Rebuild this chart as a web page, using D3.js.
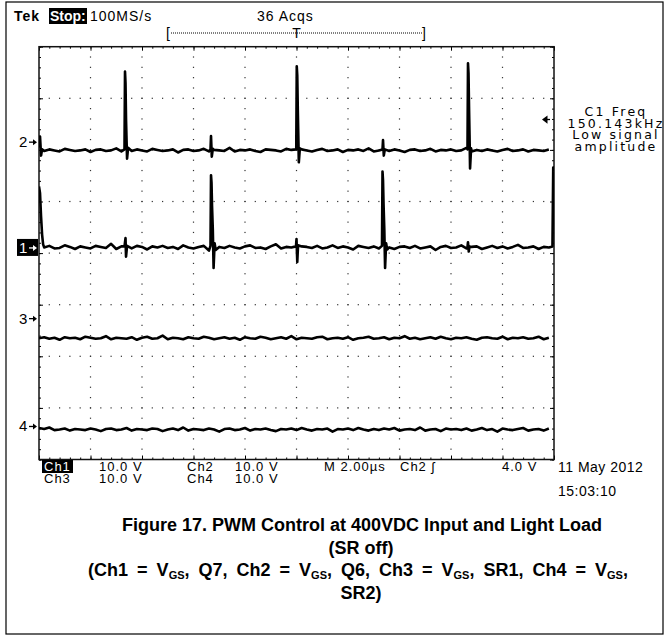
<!DOCTYPE html>
<html>
<head>
<meta charset="utf-8">
<script src="https://cdn.jsdelivr.net/npm/d3@7/dist/d3.min.js"></script>
<style>
  body { margin: 0; background: #fff; }
  svg { display: block; }
  .scope { font-family: "Liberation Sans", Arial, sans-serif; font-size: 14px; fill: #000; letter-spacing: 1px; }
  .side { font-family: "DejaVu Sans", sans-serif; font-size: 12.5px; fill: #000; letter-spacing: 2.2px; }
  .caption { font-family: "Liberation Sans", Arial, sans-serif; font-weight: bold; font-size: 18px; fill: #000; }
  .trace { fill: none; stroke: #000; stroke-width: 2.6; stroke-linejoin: round; }
</style>
</head>
<body>
<div id="chart"></div>
<script>

// scope settings
var timeDivs = [0, 2, 4, 6, 8, 10, 12, 14, 16, 18, 20];      // µs, M 2.00µs/div
var voltDivs = [-4, -3, -2, -1, 0, 1, 2, 3, 4];               // graticule divisions
var channels = ["Ch1", "Ch2", "Ch3", "Ch4"];
var voltsPerDiv = [10, 10, 10, 10];
var chOffsetDiv = [0.1, 2.15, -1.27, -3.36];                  // channel ground markers
var chBaseline = [0.1, -1.6, -3.8, -0.6];                     // V, trace rest level
var sampleStep = 0.2;                                         // µs between noise samples

// baseline noise, V (one value per 0.2 µs)
var ch1Noise = [0.2,0.0,0.3,-0.2,-0.1,0.4,0.1,-0.3,0.2,0.0,
  -0.2,0.3,0.1,-0.1,0.7,-0.3,0.2,0.0,-0.2,0.3,
  0.1,-0.4,0.2,0.0,0.3,-0.1,0.1,-0.3,0.4,0.0,
  -0.2,0.1,0.3,-0.6,0.2,0.1,-0.1,0.3,0.0,-0.2,
  0.2,0.4,-0.1,0.0,-0.3,0.2,0.6,-0.2,0.1,0.0,
  -0.3,0.2,0.1,-0.1,0.3,-0.2,0.0,0.4,-0.1,0.2,
  0.0,-0.4,0.3,0.1,-0.1,0.2,-0.2,0.7,0.0,-0.3,
  0.1,0.2,-0.1,0.3,-0.2,0.0,0.2,-0.5,0.1,0.3,
  -0.1,0.0,0.4,-0.2,0.1,0.2,-0.3,0.0,0.3,-0.1,
  0.2,-0.2,0.1,0.5,-0.1,0.0,0.2,-0.3,0.1,0.0];
var ch2Noise = [0.1,-0.1,0.2,0.0,-0.2,0.3,0.1,-0.1,0.0,0.2,
  -0.3,0.1,0.2,-0.1,0.0,0.4,-0.2,0.1,-0.1,0.2,
  0.0,-0.2,0.3,0.1,-0.1,0.0,0.2,-0.4,0.1,0.2,
  -0.1,0.0,0.3,-0.2,0.1,0.0,-0.1,0.5,-0.2,0.1,
  0.0,0.2,-0.1,-0.3,0.2,0.1,0.0,-0.2,0.3,0.1,
  -0.1,0.2,0.0,-0.2,0.1,0.3,-0.1,0.0,0.2,-0.3,
  0.1,0.0,0.2,-0.1,0.4,-0.2,0.0,0.1,-0.1,0.2,
  0.0,-0.3,0.1,0.2,-0.1,0.0,0.3,-0.2,0.1,0.0,
  0.2,-0.1,0.0,0.5,-0.2,0.1,-0.1,0.2,0.0,-0.2,
  0.1,0.3,-0.1,0.0,0.2,-0.2,0.1,0.0,-0.1,0.2];
var ch3Noise = [0.0,0.2,-0.1,0.1,-0.3,0.2,0.0,0.1,-0.2,0.3,
  0.1,-0.1,0.0,0.4,-0.2,0.1,0.0,-0.1,0.2,-0.3,
  0.1,0.3,-0.1,0.0,0.5,-0.2,0.1,0.0,-0.2,0.2,
  0.0,-0.1,0.3,0.1,-0.2,0.0,0.2,-0.1,0.1,-0.3,
  0.2,0.0,-0.1,0.3,0.1,-0.2,0.0,0.2,-0.1,0.4,
  -0.2,0.1,0.0,-0.1,0.2,0.3,-0.2,0.0,0.1,-0.1,
  0.2,-0.3,0.0,0.1,0.3,-0.1,0.0,0.2,-0.2,0.1,
  0.0,0.4,-0.1,0.1,-0.2,0.0,0.2,-0.1,0.3,0.0,
  -0.2,0.1,0.0,0.2,-0.1,-0.3,0.1,0.2,0.0,-0.1,
  0.3,-0.2,0.1,0.0,0.2,-0.1,0.0,0.3,-0.2,0.1];
var ch4Noise = [0.3,0.1,0.4,-0.1,0.0,0.2,-0.2,0.1,0.0,-0.1,
  0.2,0.0,-0.3,0.1,0.2,-0.1,0.0,0.3,-0.2,0.1,
  0.0,-0.1,0.2,0.1,-0.3,0.0,0.2,-0.1,0.4,-0.2,
  0.1,0.0,-0.1,0.2,0.0,-0.4,0.1,0.2,-0.1,0.0,
  0.3,-0.2,0.1,0.0,0.2,-0.1,-0.3,0.1,0.0,0.2,
  -0.1,0.3,0.0,-0.2,0.1,0.0,0.2,-0.4,0.1,0.0,
  0.2,-0.1,0.3,0.0,-0.2,0.1,-0.1,0.2,0.0,0.3,
  -0.2,0.0,0.1,-0.1,0.4,-0.2,0.0,0.1,-0.3,0.2,
  0.0,0.1,-0.1,0.2,-0.2,0.0,0.3,-0.1,0.1,-0.4,
  0.2,0.0,-0.1,0.1,0.3,-0.2,0.0,0.1,-0.2,0.2];

// switching edges, [µs, V above rest level]
var ch1Spikes = [
  [[0.00,11.8],[0.04,10.5],[0.08,6.0],[0.12,2.5],[0.16,0.6]],
  [[3.32,0.2],[3.36,1.8],[3.38,-1.8],[3.42,0.3]],
  [[6.66,0.3],[6.68,14.0],[6.70,12.5],[6.72,8.0],[6.75,3.5],[6.78,-4.0],[6.82,0.8],[6.86,-0.5]],
  [[9.98,0.2],[10.00,1.6],[10.03,-2.8],[10.06,0.4]],
  [[13.32,0.3],[13.34,14.7],[13.36,13.0],[13.38,8.5],[13.41,3.5],[13.44,-4.0],[13.48,0.8],[13.52,-0.4]],
  [[16.64,0.1],[16.66,1.0],[16.69,-0.8],[16.72,0.2]],
  [[19.94,0.2],[19.97,15.5],[20.00,14.8]]
];
var ch2Spikes = [
  [[0.00,0.5],[0.04,2.7],[0.08,-1.0],[0.12,0.2]],
  [[3.32,0.2],[3.34,15.3],[3.36,13.0],[3.38,6.0],[3.40,2.0],[3.42,-1.6],[3.46,0.5]],
  [[6.66,0.2],[6.68,2.8],[6.71,-1.2],[6.75,0.3]],
  [[9.99,0.2],[10.01,16.3],[10.03,14.5],[10.05,8.0],[10.07,3.0],[10.09,-2.3],[10.13,0.4]],
  [[13.34,0.2],[13.36,2.0],[13.39,-1.0],[13.43,0.2]],
  [[16.64,0.2],[16.66,16.9],[16.68,15.0],[16.70,8.5],[16.72,3.0],[16.74,-3.5],[16.78,0.4]]
];
var ch3Spikes = [];
var ch4Spikes = [];

var noiseData = [ch1Noise, ch2Noise, ch3Noise, ch4Noise];
var spikeData = [ch1Spikes, ch2Spikes, ch3Spikes, ch4Spikes];

var W = 666, H = 637;
var plot = { left: 39, right: 554, top: 46.7, bottom: 459.5 };

var svg = d3.select("#chart").append("svg")
  .attr("width", W)
  .attr("height", H);

// outer frame
svg.append("rect")
  .attr("x", 6).attr("y", 2)
  .attr("width", 657).attr("height", 632)
  .attr("fill", "none").attr("stroke", "#000").attr("stroke-width", 1.2);

var xScale = d3.scaleLinear().domain([0, 20]).range([plot.left, plot.right]);
var yScale = d3.scaleLinear().domain([-4, 4]).range([plot.bottom, plot.top]);

// minor positions every 1/5 division
var minorT = d3.range(0, 20.001, 0.4);
var minorV = d3.range(-4, 4.001, 0.2);

// dotted graticule
var grid = svg.append("g").attr("class", "grid");
timeDivs.slice(1, -1).forEach(function(t) {
  grid.selectAll(null)
    .data(minorV.slice(1, -1)).enter()
    .append("rect")
    .attr("x", xScale(t) - 0.6)
    .attr("y", function(v) { return yScale(v) - 0.6; })
    .attr("width", 1.2).attr("height", 1.2)
    .attr("fill", "#333");
});
voltDivs.slice(1, -1).forEach(function(v) {
  grid.selectAll(null)
    .data(minorT.slice(1, -1)).enter()
    .append("rect")
    .attr("x", function(t) { return xScale(t) - 0.6; })
    .attr("y", yScale(v) - 0.6)
    .attr("width", 1.2).attr("height", 1.2)
    .attr("fill", "#333");
});

// frame ticks (pointing inward)
function frameAxis(axis, scale, values, size, tr) {
  var g = svg.append("g")
    .attr("transform", tr)
    .call(axis(scale).tickValues(values).tickSize(size).tickFormat(""));
  g.select(".domain").remove();
  g.selectAll("line").attr("stroke", "#000").attr("stroke-width", 1);
}
frameAxis(d3.axisBottom, xScale, minorT, 2, "translate(0," + plot.top + ")");
frameAxis(d3.axisBottom, xScale, timeDivs, 4, "translate(0," + plot.top + ")");
frameAxis(d3.axisTop, xScale, minorT, 2, "translate(0," + plot.bottom + ")");
frameAxis(d3.axisTop, xScale, timeDivs, 4, "translate(0," + plot.bottom + ")");
frameAxis(d3.axisRight, yScale, minorV, 2, "translate(" + plot.left + ",0)");
frameAxis(d3.axisRight, yScale, voltDivs, 4, "translate(" + plot.left + ",0)");
frameAxis(d3.axisLeft, yScale, minorV, 2, "translate(" + plot.right + ",0)");
frameAxis(d3.axisLeft, yScale, voltDivs, 4, "translate(" + plot.right + ",0)");

svg.append("rect")
  .attr("x", plot.left).attr("y", plot.top)
  .attr("width", plot.right - plot.left).attr("height", plot.bottom - plot.top)
  .attr("fill", "none").attr("stroke", "#111").attr("stroke-width", 1.5);

svg.append("clipPath").attr("id", "screen")
  .append("rect")
  .attr("x", plot.left).attr("y", plot.top - 20)
  .attr("width", plot.right - plot.left).attr("height", plot.bottom - plot.top + 20);

// build each trace: noise samples, with the spike windows spliced in
function tracePoints(i) {
  var spikes = spikeData[i];
  var pts = noiseData[i].map(function(v, k) { return [k * sampleStep, v]; })
    .filter(function(p) {
      return !spikes.some(function(s) { return p[0] >= s[0][0] && p[0] <= s[s.length - 1][0]; });
    });
  spikes.forEach(function(s) { pts = pts.concat(s); });
  pts.sort(function(a, b) { return a[0] - b[0]; });
  return pts;
}

var traces = svg.append("g").attr("clip-path", "url(#screen)");
channels.forEach(function(name, i) {
  var line = d3.line()
    .x(function(d) { return xScale(d[0]); })
    .y(function(d) { return yScale(chOffsetDiv[i] + (chBaseline[i] + d[1]) / voltsPerDiv[i]); });
  traces.append("path")
    .attr("class", "trace")
    .attr("d", line(tracePoints(i)));
});

// small arrow: shaft from x0 to x1, head at x1
function arrow(x0, x1, yy, color, head) {
  var dir = x1 > x0 ? 1 : -1;
  head = head || 4;
  svg.append("line")
    .attr("x1", x0).attr("x2", x1 - dir * 2).attr("y1", yy).attr("y2", yy)
    .attr("stroke", color).attr("stroke-width", 1.3);
  svg.append("path")
    .attr("d", "M" + x1 + "," + yy + "L" + (x1 - dir * head) + "," + (yy - head * 0.75) + "L" + (x1 - dir * head) + "," + (yy + head * 0.75) + "Z")
    .attr("fill", color);
}

// channel ground markers
channels.forEach(function(name, i) {
  var yy = yScale(chOffsetDiv[i]);
  var num = name.slice(2);
  var col = i === 0 ? "#fff" : "#000";
  if (i === 0) {
    svg.append("rect").attr("x", 17).attr("y", yy - 9).attr("width", 21).attr("height", 17).attr("fill", "#000");
  }
  svg.append("text")
    .attr("class", "scope")
    .attr("x", 19).attr("y", yy + 5)
    .style("fill", col)
    .style("font-size", "15px")
    .text(num);
  arrow(29, 37, yy, col);
});

// trigger level
arrow(550, 542, 119.5, "#000", 5.5);

// header
svg.append("text").attr("class", "scope").attr("x", 14).attr("y", 21).style("font-weight", "bold").text("Tek");
svg.append("rect").attr("x", 49).attr("y", 8).attr("width", 38).attr("height", 16).attr("fill", "#000");
svg.append("text").attr("class", "scope").attr("x", 50).attr("y", 21).style("fill", "#fff").style("font-weight", "bold").style("letter-spacing", "0px").text("Stop:");
svg.append("text").attr("class", "scope").attr("x", 90).attr("y", 21).text("100MS/s");
svg.append("text").attr("class", "scope").attr("x", 257).attr("y", 21).text("36 Acqs");

// record-length bracket
svg.append("text").attr("class", "scope").attr("x", 166).attr("y", 38).text("[");
svg.append("text").attr("class", "scope").attr("x", 422).attr("y", 38).text("]");
svg.append("line")
  .attr("x1", 171).attr("x2", 423).attr("y1", 33).attr("y2", 33)
  .attr("stroke", "#000").attr("stroke-width", 1).attr("stroke-dasharray", "1,1");
svg.append("text").attr("class", "scope")
  .attr("x", xScale(10)).attr("y", 38)
  .attr("text-anchor", "middle")
  .style("letter-spacing", "0px")
  .text("T");

// bottom readout
svg.append("rect").attr("x", 42).attr("y", 460).attr("width", 31).attr("height", 13).attr("fill", "#000");
var readout = [
  ["Ch1", 44, 471, "#fff"], ["10.0 V", 99, 471], ["Ch2", 187, 471], ["10.0 V", 235, 471],
  ["M 2.00\u00b5s", 324, 471], ["Ch2 \u0283", 400, 471], ["4.0 V", 502, 471],
  ["Ch3", 44, 483], ["10.0 V", 99, 483], ["Ch4", 187, 483], ["10.0 V", 235, 483]
];
readout.forEach(function(r) {
  svg.append("text").attr("class", "scope")
    .attr("x", r[1]).attr("y", r[2])
    .style("font-size", "13px")
    .style("fill", r[3] || "#000")
    .text(r[0]);
});
svg.append("text").attr("class", "scope").attr("x", 558).attr("y", 472).style("letter-spacing", "0.5px").text("11 May 2012");
svg.append("text").attr("class", "scope").attr("x", 558).attr("y", 496).style("letter-spacing", "0.5px").text("15:03:10");

// frequency readout
var side = ["C1 Freq", "150.143kHz", "Low signal", "amplitude"];
side.forEach(function(s, k) {
  svg.append("text").attr("class", "side")
    .attr("x", 616).attr("y", 116 + k * 11.5)
    .attr("text-anchor", "middle")
    .text(s);
});

// caption
var cap = svg.append("g").attr("class", "caption").attr("text-anchor", "middle");
cap.append("text").attr("x", 362).attr("y", 531).text("Figure 17. PWM Control at 400VDC Input and Light Load");
cap.append("text").attr("x", 361).attr("y", 554).text("(SR off)");
var l3 = cap.append("text").attr("x", 358).attr("y", 576).style("word-spacing", "4px");
var parts = ["(Ch1 = V", "GS", ", Q7, Ch2 = V", "GS", ", Q6, Ch3 = V", "GS", ", SR1, Ch4 = V", "GS", ","];
parts.forEach(function(p, k) {
  var ts = l3.append("tspan").text(p);
  if (k % 2 === 1) ts.style("font-size", "11px").attr("dy", 3);
  else if (k > 0) ts.attr("dy", -3);
});
cap.append("text").attr("x", 361).attr("y", 599).text("SR2)");

</script>
</body>
</html>
